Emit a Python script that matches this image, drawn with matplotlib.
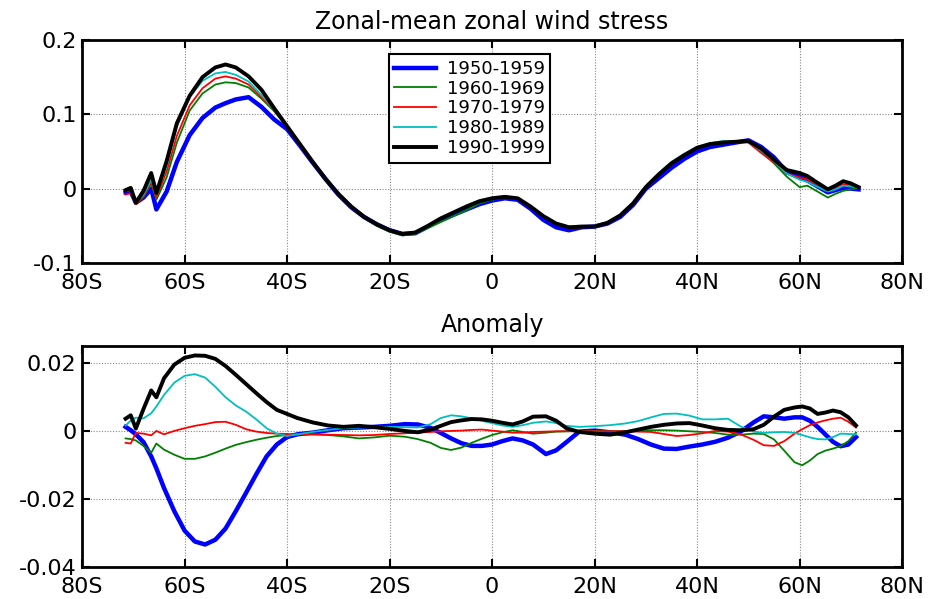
import matplotlib
matplotlib.use("Agg")
import matplotlib.pyplot as plt

plt.rcParams['font.family'] = ['DejaVu Sans']

# ---------------- data ----------------
decades = ["1950-1959", "1960-1969", "1970-1979", "1980-1989", "1990-1999"]
colors = ["#0000ff", "#008000", "#ff0000", "#00bfbf", "#000000"]
widths = [3.2, 1.3, 1.3, 1.3, 2.8]

lat_top = [-71.5, -70.5, -69.5, -68, -66.5, -65.5, -63.5, -61.5, -59, -56.5, -54, -52,
           -50, -47.5, -45, -42.5, -40, -37.5, -35, -32.5, -30, -27.5, -25, -22.5,
           -20, -17.5, -15, -12.5, -10, -7.5, -5, -2.5, 0, 2.5, 5, 7.5,
           10, 12.5, 15, 17.5, 20, 22.5, 25, 27.5, 30, 32.5, 35, 37.5,
           40, 42.5, 45, 47.5, 50, 52.5, 55, 57.5, 60, 61.5, 63, 65.5,
           67, 68.5, 70, 71.5]

stress_1950s = [-0.005, -0.004, -0.019, -0.012, 0.000, -0.028, -0.004, 0.036, 0.072, 0.095, 0.109, 0.115,
                0.120, 0.123, 0.110, 0.093, 0.080, 0.058, 0.035, 0.013, -0.008, -0.025, -0.038, -0.048,
                -0.056, -0.061, -0.060, -0.051, -0.042, -0.035, -0.028, -0.021, -0.016, -0.013, -0.015, -0.027,
                -0.042, -0.052, -0.056, -0.052, -0.051, -0.047, -0.038, -0.022, 0.000, 0.014, 0.028, 0.040,
                0.050, 0.056, 0.059, 0.062, 0.065, 0.056, 0.042, 0.022, 0.016, 0.011, 0.005, -0.005,
                -0.002, 0.001, 0.000, -0.001]
stress_1960s = [-0.003, -0.002, -0.021, -0.011, 0.007, -0.015, 0.015, 0.062, 0.105, 0.128, 0.140, 0.143,
                0.142, 0.136, 0.121, 0.104, 0.083, 0.059, 0.035, 0.012, -0.008, -0.025, -0.039, -0.050,
                -0.058, -0.063, -0.061, -0.053, -0.045, -0.037, -0.029, -0.020, -0.015, -0.012, -0.014, -0.025,
                -0.038, -0.048, -0.053, -0.052, -0.051, -0.046, -0.036, -0.020, 0.002, 0.019, 0.034, 0.045,
                0.054, 0.059, 0.061, 0.062, 0.064, 0.050, 0.034, 0.016, 0.002, 0.004, -0.002, -0.012,
                -0.007, -0.003, -0.001, 0.001]
stress_1970s = [-0.008, -0.006, -0.021, -0.010, 0.009, -0.012, 0.023, 0.071, 0.112, 0.135, 0.148, 0.151,
                0.148, 0.140, 0.123, 0.105, 0.084, 0.059, 0.036, 0.013, -0.007, -0.024, -0.038, -0.049,
                -0.057, -0.062, -0.059, -0.050, -0.041, -0.033, -0.025, -0.017, -0.013, -0.011, -0.014, -0.025,
                -0.038, -0.048, -0.053, -0.052, -0.051, -0.046, -0.036, -0.020, 0.002, 0.019, 0.033, 0.044,
                0.054, 0.060, 0.062, 0.063, 0.062, 0.048, 0.035, 0.020, 0.015, 0.012, 0.007, -0.003,
                0.002, 0.006, 0.004, 0.001]
stress_1980s = [-0.003, -0.001, -0.019, -0.008, 0.012, -0.008, 0.030, 0.083, 0.123, 0.145, 0.155, 0.157,
                0.153, 0.144, 0.126, 0.106, 0.084, 0.059, 0.036, 0.013, -0.007, -0.024, -0.038, -0.048,
                -0.056, -0.061, -0.059, -0.049, -0.039, -0.031, -0.023, -0.016, -0.012, -0.011, -0.013, -0.024,
                -0.036, -0.046, -0.051, -0.051, -0.050, -0.045, -0.035, -0.018, 0.004, 0.021, 0.036, 0.047,
                0.056, 0.061, 0.064, 0.064, 0.063, 0.051, 0.037, 0.020, 0.012, 0.009, 0.004, -0.004,
                -0.001, 0.004, 0.003, 0.001]
stress_1990s = [-0.002, 0.001, -0.019, -0.003, 0.021, -0.006, 0.037, 0.088, 0.125, 0.150, 0.163, 0.167,
                0.163, 0.151, 0.133, 0.108, 0.084, 0.060, 0.036, 0.013, -0.007, -0.024, -0.038, -0.048,
                -0.056, -0.061, -0.059, -0.050, -0.040, -0.032, -0.024, -0.017, -0.013, -0.011, -0.013, -0.024,
                -0.037, -0.047, -0.052, -0.051, -0.051, -0.046, -0.036, -0.020, 0.002, 0.019, 0.034, 0.045,
                0.055, 0.060, 0.062, 0.063, 0.064, 0.054, 0.039, 0.025, 0.021, 0.017, 0.010, -0.001,
                0.004, 0.010, 0.007, 0.002]

lat_anom = [-71.5, -70.5, -69.5, -68, -66.5, -65.5, -64, -62, -60, -58, -56, -54,
            -52, -50, -48, -46, -44, -42, -40, -38, -35, -32, -29, -26,
            -23, -20, -17, -14.5, -12, -10, -8, -6, -4, -2, 0, 2,
            4, 6, 8, 10.5, 12.5, 14.5, 17, 20, 23, 26, 28.5, 31,
            33.5, 36, 38.5, 41, 43.5, 46, 48.5, 51, 53, 55, 57, 59,
            60.5, 62, 63.5, 65, 66.5, 68, 69.5, 71]

anom_1950s = [0.0012, 0.0002, -0.0010, -0.0033, -0.0075, -0.0110, -0.0168, -0.0236, -0.0293, -0.0325, -0.0334, -0.0320,
              -0.0287, -0.0236, -0.0182, -0.0127, -0.0075, -0.0040, -0.0018, -0.0010, -0.0005, 0.0002, 0.0008, 0.0010,
              0.0012, 0.0015, 0.0020, 0.0019, 0.0009, -0.0006, -0.0022, -0.0036, -0.0044, -0.0044, -0.0040, -0.0030,
              -0.0022, -0.0028, -0.0040, -0.0068, -0.0057, -0.0033, -0.0002, 0.0001, -0.0004, -0.0011, -0.0024, -0.0040,
              -0.0052, -0.0053, -0.0046, -0.0040, -0.0032, -0.0020, -0.0002, 0.0025, 0.0043, 0.0040, 0.0036, 0.0040,
              0.0040, 0.0030, 0.0012, -0.0010, -0.0032, -0.0045, -0.0040, -0.0018]
anom_1960s = [-0.0022, -0.0024, -0.0028, -0.0044, -0.0064, -0.0037, -0.0055, -0.0070, -0.0082, -0.0082, -0.0075, -0.0064,
              -0.0052, -0.0041, -0.0033, -0.0026, -0.0020, -0.0015, -0.0012, -0.0010, -0.0010, -0.0012, -0.0016, -0.0022,
              -0.0019, -0.0014, -0.0017, -0.0024, -0.0035, -0.0050, -0.0056, -0.0049, -0.0035, -0.0023, -0.0012, -0.0004,
              0.0002, -0.0003, -0.0008, -0.0005, -0.0002, -0.0001, 0.0000, 0.0000, -0.0001, 0.0000, 0.0001, 0.0002,
              0.0002, 0.0001, -0.0001, -0.0003, -0.0006, -0.0011, -0.0011, -0.0008, -0.0009, -0.0025, -0.0058, -0.0092,
              -0.0101, -0.0087, -0.0068, -0.0058, -0.0052, -0.0045, -0.0030, -0.0005]
anom_1970s = [-0.0035, -0.0037, -0.0006, -0.0008, -0.0013, 0.0000, -0.0010, 0.0000, 0.0008, 0.0015, 0.0020, 0.0026,
              0.0027, 0.0018, 0.0005, -0.0002, -0.0006, -0.0008, -0.0009, -0.0010, -0.0010, -0.0011, -0.0012, -0.0013,
              -0.0012, -0.0009, -0.0007, -0.0005, -0.0003, -0.0001, 0.0000, 0.0001, 0.0003, 0.0004, 0.0001, -0.0002,
              -0.0005, -0.0005, -0.0003, -0.0002, -0.0001, -0.0001, -0.0001, -0.0001, -0.0001, -0.0001, -0.0002, -0.0003,
              -0.0009, -0.0015, -0.0012, -0.0007, 0.0000, -0.0002, -0.0010, -0.0026, -0.0042, -0.0044, -0.0030, -0.0008,
              0.0005, 0.0017, 0.0025, 0.0031, 0.0036, 0.0039, 0.0027, 0.0010]
anom_1980s = [0.0016, 0.0030, 0.0039, 0.0037, 0.0052, 0.0072, 0.0106, 0.0142, 0.0162, 0.0167, 0.0157, 0.0130,
              0.0099, 0.0075, 0.0057, 0.0034, 0.0008, -0.0008, -0.0015, -0.0010, -0.0003, 0.0003, 0.0008, 0.0010,
              0.0012, 0.0012, 0.0011, 0.0010, 0.0020, 0.0038, 0.0046, 0.0043, 0.0037, 0.0030, 0.0023, 0.0016,
              0.0012, 0.0017, 0.0024, 0.0028, 0.0023, 0.0015, 0.0012, 0.0014, 0.0017, 0.0022, 0.0029, 0.0040,
              0.0050, 0.0051, 0.0045, 0.0034, 0.0034, 0.0036, 0.0013, -0.0002, -0.0006, -0.0004, -0.0003, -0.0006,
              -0.0012, -0.0019, -0.0024, -0.0025, -0.0018, -0.0008, -0.0009, -0.0010]
anom_1990s = [0.0036, 0.0046, 0.0007, 0.0065, 0.0119, 0.0099, 0.0155, 0.0195, 0.0215, 0.0222, 0.0221, 0.0212,
              0.0191, 0.0165, 0.0138, 0.0111, 0.0085, 0.0062, 0.0050, 0.0038, 0.0025, 0.0016, 0.0012, 0.0015,
              0.0011, 0.0006, 0.0000, -0.0004, 0.0004, 0.0015, 0.0026, 0.0031, 0.0035, 0.0034, 0.0030, 0.0024,
              0.0019, 0.0028, 0.0042, 0.0043, 0.0030, 0.0008, -0.0003, -0.0008, -0.0011, -0.0004, 0.0004, 0.0012,
              0.0018, 0.0022, 0.0023, 0.0016, 0.0008, 0.0003, 0.0002, 0.0005, 0.0018, 0.0042, 0.0062, 0.0069,
              0.0072, 0.0066, 0.0050, 0.0054, 0.0060, 0.0055, 0.0040, 0.0016]

x_ticks = [-80, -60, -40, -20, 0, 20, 40, 60, 80]
x_ticklabels = ["80S", "60S", "40S", "20S", "0", "20N", "40N", "60N", "80N"]
top_yticks = [-0.1, 0, 0.1, 0.2]
top_yticklabels = ["-0.1", "0", "0.1", "0.2"]
bot_yticks = [-0.04, -0.02, 0, 0.02]
bot_yticklabels = ["-0.04", "-0.02", "0", "0.02"]

stress = [stress_1950s, stress_1960s, stress_1970s, stress_1980s, stress_1990s]
anoms = [anom_1950s, anom_1960s, anom_1970s, anom_1980s, anom_1990s]

# ---------------- figure ----------------
fig = plt.figure(figsize=(9.29, 5.99), dpi=100)
ax1 = fig.add_axes([0.0883, 0.5610, 0.8828, 0.3723])
ax2 = fig.add_axes([0.0883, 0.0535, 0.8828, 0.3690])

FS = 16

def style(ax, yticks, ylabels, ylim):
    ax.set_xlim(-80, 80)
    ax.set_ylim(*ylim)
    ax.set_xticks(x_ticks)
    ax.set_xticklabels(x_ticklabels)
    ax.set_yticks(yticks)
    ax.set_yticklabels(ylabels)
    ax.tick_params(direction='in', top=True, right=True, length=6, width=1.5,
                   labelsize=FS)
    ax.tick_params(axis='x', pad=7)
    ax.tick_params(axis='y', pad=4)
    ax.grid(True, linestyle=(0, (1, 1.5)), color='#888888', linewidth=0.8)
    for s in ax.spines.values():
        s.set_linewidth(2)

for vals, c, w, lab in zip(stress, colors, widths, decades):
    ax1.plot(lat_top, vals, color=c, linewidth=w, label=lab)
style(ax1, top_yticks, top_yticklabels, (-0.1, 0.2))
ax1.set_title("Zonal-mean zonal wind stress", fontsize=17, pad=8)
leg = ax1.legend(loc='upper left', bbox_to_anchor=(0.374, 0.935), fontsize=13,
                 handlelength=2.3, labelspacing=0.1, borderpad=0.3,
                 handletextpad=0.6, borderaxespad=0, fancybox=False,
                 framealpha=1, edgecolor='black')
leg.get_frame().set_linewidth(1.5)

for vals, c, w in zip(anoms, colors, widths):
    ax2.plot(lat_anom, vals, color=c, linewidth=w)
style(ax2, bot_yticks, bot_yticklabels, (-0.04, 0.025))
ax2.set_title("Anomaly", fontsize=17, pad=10)

fig.savefig("out.png", dpi=100)
